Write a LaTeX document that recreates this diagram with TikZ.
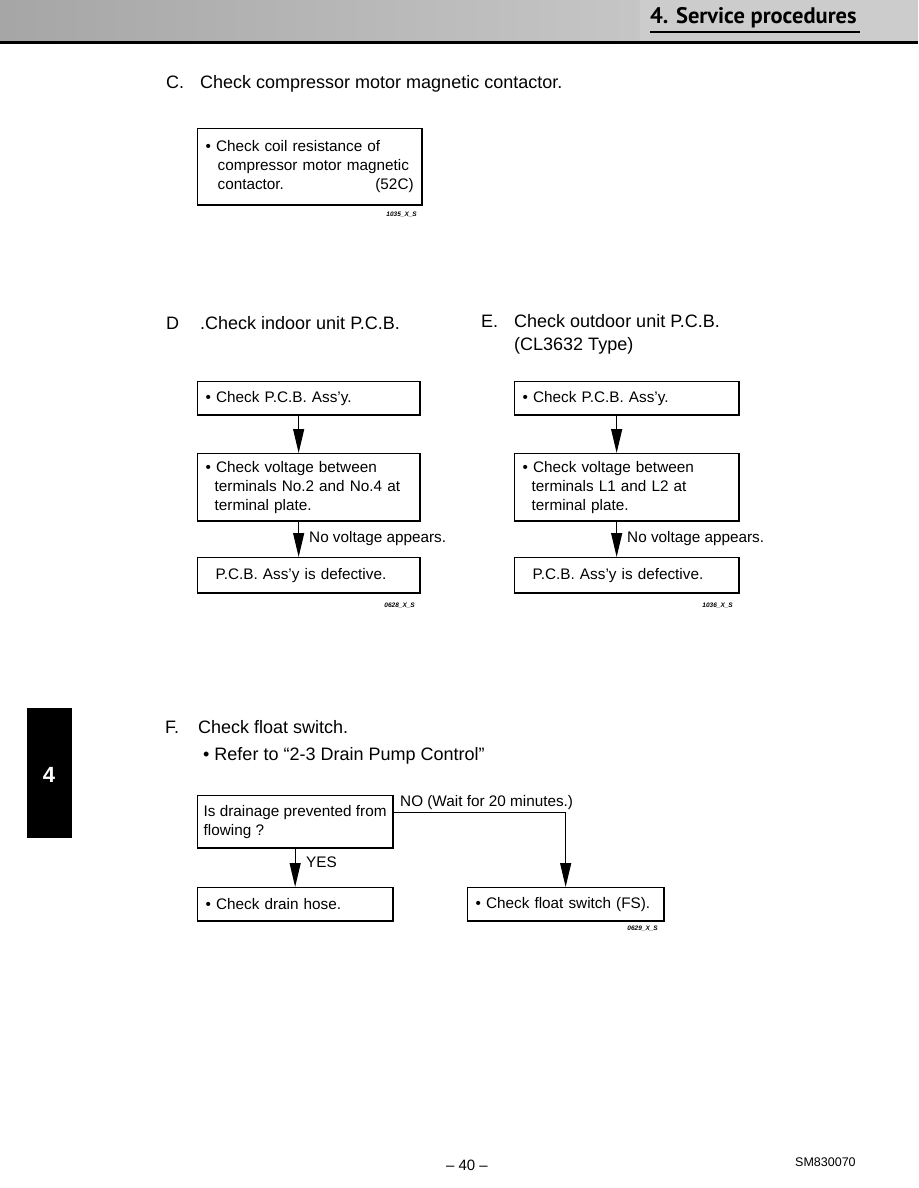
\documentclass[tikz,border=0pt]{standalone}
\usepackage{fontspec}
\setmainfont{Liberation Sans}
\newfontfamily\headfont{PT Sans}
\usetikzlibrary{arrows.meta}
\newcommand\bodyfnt{\fontsize{18}{21}\selectfont}
\newcommand\boxfnt{\fontsize{15.3}{19}\selectfont}
\newcommand\tagfnt{\fontsize{6.5}{7}\selectfont\itshape\bfseries}
\tikzset{
  box/.style={draw, line width=1.3pt, anchor=north west, align=left,
    inner xsep=8pt, inner ysep=0pt, font=\boxfnt},
  flow/.style={line width=1.2pt, -{Triangle[length=24pt,width=11pt]}},
  heavy/.style={line width=2.2pt, line cap=butt, line join=miter},
  lbl/.style={anchor=base west, inner sep=0pt, font=\boxfnt},
  head/.style={anchor=base west, inner sep=0pt, font=\bodyfnt},
  tag/.style={anchor=base east, inner sep=0pt, font=\tagfnt}
}
\begin{document}
\begin{tikzpicture}[x=1pt,y=-1pt]
\useasboundingbox (0,0) rectangle (918,1188);
% header band
\shade[left color=gray!70, right color=gray!45] (0,0) rectangle (640,42);
\fill[gray!40] (640,0) rectangle (918,42);
\fill[black] (0,41.5) rectangle (918,44.5);
\node[anchor=base west, inner sep=0pt, font=\headfont\bfseries\fontsize{22.5}{25}\selectfont] (title) at (650,24) {4. Service procedures};
\draw[line width=1.6pt] (650,32) -- (860,32);

% C
\node[head] (hc1) at (166,89) {C.};
\node[head] (hc2) at (200,89) {Check compressor motor magnetic contactor.};
\node[box, text width=208pt, minimum height=76pt] (C) at (197,128)
  {• Check coil resistance of\\\hspace*{12pt}compressor motor magnetic\\\hspace*{12pt}contactor.\hfill(52C)\hspace*{13pt}};
\node[tag] (tc) at (417,216) {1035\_X\_S};

% D
\node[head] (hd1) at (166,329) {D};
\node[head] (hd2) at (200,329) {.Check indoor unit P.C.B.};
\node[box, text width=206pt, minimum height=33pt] (D1) at (197,381) {• Check P.C.B. Ass’y.};
\node[box, text width=206pt, minimum height=67pt] (D2) at (197,453)
  {• Check voltage between\\\hspace*{9pt}terminals No.2 and No.4 at\\\hspace*{9pt}terminal plate.};
\node[box, text width=186pt, inner xsep=18pt, minimum height=35pt] (D3) at (197,557) {P.C.B. Ass’y is defective.};
\draw[flow] ([xshift=-10pt]D1.south) -- ([xshift=-10pt]D2.north);
\draw[flow] ([xshift=-10pt]D2.south) -- ([xshift=-10pt]D3.north);
\node[lbl] (nvd) at (309,542) {No voltage appears.};
\node[tag] (td) at (415,607) {0628\_X\_S};

% E
\node[head] (he1) at (481,327) {E.};
\node[head] (he2) at (514,327) {Check outdoor unit P.C.B.};
\node[head] (he3) at (514,350) {(CL3632 Type)};
\node[box, text width=208pt, minimum height=33pt] (E1) at (514,381) {• Check P.C.B. Ass’y.};
\node[box, text width=208pt, minimum height=67pt] (E2) at (514,453)
  {• Check voltage between\\\hspace*{9pt}terminals L1 and L2 at\\\hspace*{9pt}terminal plate.};
\node[box, text width=188pt, inner xsep=18pt, minimum height=35pt] (E3) at (514,557) {P.C.B. Ass’y is defective.};
\draw[flow] ([xshift=-10pt]E1.south) -- ([xshift=-10pt]E2.north);
\draw[flow] ([xshift=-10pt]E2.south) -- ([xshift=-10pt]E3.north);
\node[lbl] (nve) at (627,542) {No voltage appears.};
\node[tag] (te) at (733,607) {1036\_X\_S};

% side tab
\fill[black] (27,708) rectangle (72,838);
\node[font=\bfseries\fontsize{22}{24}\selectfont, text=white] (tab) at (49,775) {4};

% F
\node[head] (hf1) at (165,733) {F.};
\node[head] (hf2) at (198,733) {Check float switch.};
\node[head] (hf3) at (203,760) {• Refer to “2-3 Drain Pump Control”};
\node[box, inner xsep=3pt, minimum width=195pt, minimum height=52pt] (F1) at (197,795)
  {Is drainage prevented from\\flowing ?};
\node[box, text width=179pt, minimum height=33pt] (F2) at (197,887) {• Check drain hose.};
\node[box, text width=180pt, minimum height=33pt] (F3) at (467,887) {• Check float switch (FS).};
\draw[flow] (F1.south) -- (F2.north);
\node[lbl] (yes) at (306,867) {YES};
\draw[flow] ([yshift=9pt]F1.east) -| (F3.north);
\node[lbl] (no) at (400,806) {NO (Wait for 20 minutes.)};
\node[tag] (tf) at (658,930) {0629\_X\_S};

% heavier right and bottom edges of the boxes
\foreach \b in {C,D1,D2,D3,E1,E2,E3,F1,F2,F3}
  \draw[heavy] (\b.north east) -- (\b.south east) -- (\b.south west);

% footer
\node[anchor=base, inner sep=0pt, font=\fontsize{15}{18}\selectfont] (pg) at (467,1170) {– 40 –};
\node[anchor=base west, inner sep=0pt, font=\fontsize{12.5}{15}\selectfont] (sm) at (795,1166) {SM830070};
\end{tikzpicture}
\end{document}
